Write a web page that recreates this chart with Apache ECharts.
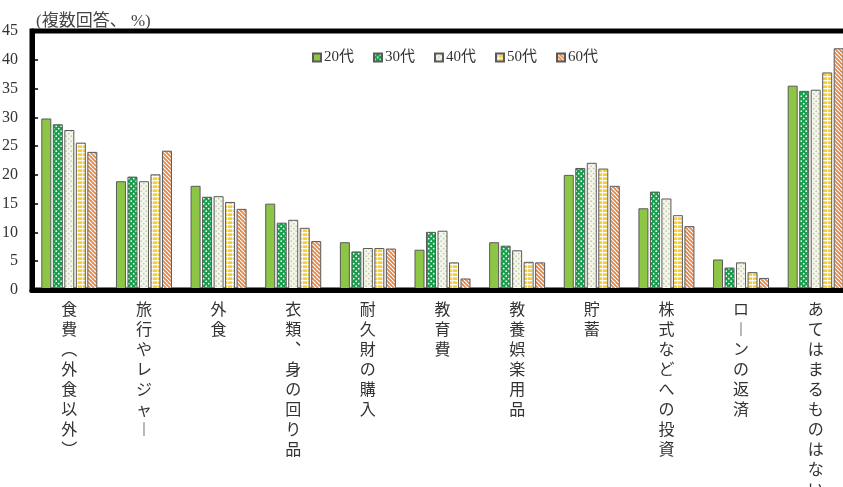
<!DOCTYPE html>
<html>
<head>
<meta charset="utf-8">
<script src="https://cdn.jsdelivr.net/npm/echarts@6/dist/echarts.min.js"></script>
<style>
  html, body { margin: 0; padding: 0; background: #fff; }
  #chart { width: 843px; height: 487px; }
</style>
</head>
<body>
<div id="chart"></div>
<script>
// Spending categories (horizontal writing; turned vertical for the axis labels)
const categories = [
  '食費（外食以外）', '旅行やレジャー', '外食', '衣類、身の回り品', '耐久財の購入',
  '教育費', '教養娯楽用品', '貯蓄', '株式などへの投資', 'ローンの返済', 'あてはまるものはない'
];
const ageGroups = ['20代', '30代', '40代', '50代', '60代'];

// Share of respondents (%), multiple answers allowed
const age20 = [29.8, 18.9, 18.1, 15.0, 8.3, 7.0, 8.3, 20.0, 14.2, 5.3, 35.5];
const age30 = [28.8, 19.7, 16.2, 11.7, 6.7, 10.1, 7.7, 21.2, 17.1, 3.9, 34.6];
const age40 = [27.8, 18.9, 16.3, 12.2, 7.3, 10.3, 6.9, 22.1, 15.9, 4.8, 34.8];
const age50 = [25.6, 20.1, 15.3, 10.8, 7.3, 4.8, 4.9, 21.1, 13.0, 3.1, 37.8];
const age60 = [24.0, 24.2, 14.1, 8.5, 7.2, 2.0, 4.8, 18.1, 11.1, 2.1, 42.0];

const yMin = 0, yMax = 45, yStep = 5;
const unitNote = '(複数回答、 %)';

// Characters that take a different form in vertical writing
const verticalForms = { '（': '︵', '）': '︶', 'ー': '︱', '、': '︑' };
function toVertical(s) {
  return Array.from(s).map(ch => verticalForms[ch] || ch).join('\n');
}

// Small repeating fills for the hatched bars
function makePattern(w, h, draw) {
  const c = document.createElement('canvas');
  c.width = w; c.height = h;
  const ctx = c.getContext('2d');
  draw(ctx, w, h);
  return { image: c, repeat: 'repeat' };
}
function dots(bg, dot) {
  return makePattern(5, 5, (ctx, w, h) => {
    ctx.fillStyle = bg; ctx.fillRect(0, 0, w, h);
    ctx.fillStyle = dot;
    [[1.2, 1.2], [3.7, 3.7]].forEach(([x, y]) => {
      ctx.beginPath(); ctx.arc(x, y, 0.85, 0, Math.PI * 2); ctx.fill();
    });
  });
}
const fill20 = '#8dc645';
const fill30 = dots('#17a04b', '#ffffff');
const fill40 = dots('#f3f6e8', '#c4cbb2');
const fill50 = makePattern(5, 4, (ctx, w, h) => {
  ctx.fillStyle = '#f6cf3d'; ctx.fillRect(0, 0, w, h);
  ctx.fillStyle = 'rgba(255,255,255,0.95)'; ctx.fillRect(0, 0, w, 1.3);
  ctx.fillStyle = 'rgba(255,255,255,0.7)'; ctx.fillRect(2, 0, 1, h);
});
const fill60 = makePattern(4, 4, (ctx, w, h) => {
  ctx.fillStyle = '#e8894a'; ctx.fillRect(0, 0, w, h);
  ctx.strokeStyle = '#ffffff'; ctx.lineWidth = 1.1;
  [-4, 0, 4].forEach(o => {
    ctx.beginPath(); ctx.moveTo(o, 0); ctx.lineTo(o + 4, 4); ctx.stroke();
  });
});

const fills = [fill20, fill30, fill40, fill50, fill60];
const values = [age20, age30, age40, age50, age60];

const chart = echarts.init(document.getElementById('chart'), null, { renderer: 'canvas' });
chart.setOption({
  animation: false,
  backgroundColor: '#ffffff',
  title: {
    text: unitNote,
    left: 31, top: 8,
    textStyle: { fontSize: 17, fontWeight: 'normal', color: '#444', fontFamily: "'Liberation Serif', 'Noto Sans CJK JP'" }
  },
  legend: {
    data: ageGroups,
    left: 307, top: 45,
    itemWidth: 8, itemHeight: 8, itemGap: 19,
    icon: 'rect',
    textStyle: { fontSize: 15, color: '#333', padding: [0, 0, 0, -2], fontFamily: "'Liberation Serif', 'Noto Sans CJK JP'" }
  },
  // the plot runs past the right edge of the page and its labels past the bottom
  grid: {
    left: 32, top: 31, right: -10, bottom: 197,
    outerBoundsMode: 'none',
    containLabel: false,
    show: true, borderColor: '#000', borderWidth: 5, backgroundColor: 'transparent'
  },
  xAxis: {
    type: 'category',
    data: categories,
    z: 5,
    axisLine: { lineStyle: { color: '#000', width: 5 } },
    axisTick: { show: false },
    axisLabel: {
      interval: 0,
      margin: 9,
      verticalAlign: 'top',
      fontSize: 16, lineHeight: 20,
      color: '#333',
      fontFamily: "'Noto Sans CJK JP'",
      formatter: v => toVertical(v)
    }
  },
  yAxis: {
    type: 'value',
    min: yMin, max: yMax, interval: yStep,
    z: 5,
    axisLine: { show: true, lineStyle: { color: '#000', width: 5 } },
    axisTick: { show: true, inside: true, length: 6, lineStyle: { color: '#000', width: 1.5 } },
    splitLine: { show: false },
    axisLabel: { margin: 14, fontSize: 16, color: '#333', fontFamily: "'Liberation Serif'" }
  },
  series: ageGroups.map((name, i) => ({
    name,
    type: 'bar',
    data: values[i],
    barWidth: 10,
    barGap: '15%',
    itemStyle: { color: fills[i], borderColor: '#5a5a5a', borderWidth: 1 }
  }))
});
</script>
</body>
</html>
